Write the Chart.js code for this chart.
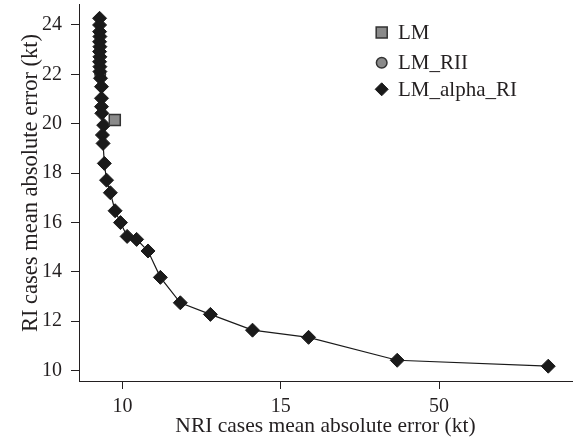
<!DOCTYPE html>
<html>
<head>
<meta charset="utf-8">
<script src="https://cdn.jsdelivr.net/npm/chart.js@4/dist/chart.umd.min.js"></script>
<style>
html,body{margin:0;padding:0;background:#fff;}
#wrap{width:576px;height:440px;}
</style>
</head>
<body>
<div id="wrap"><canvas id="c" width="576" height="440"></canvas></div>
<script>
// ---- data ----
const seriesNames = ["LM", "LM_RII", "LM_alpha_RI"];
const lmX = [9.76];
const lmY = [20.15];
const riiX = [9.30];
const riiY = [22.0];
const alphaX = [9.28, 9.28, 9.28, 9.29, 9.28, 9.29, 9.28, 9.29, 9.28, 9.29, 9.29, 9.31, 9.34, 9.34, 9.34, 9.35, 9.41, 9.37, 9.39, 9.43, 9.50, 9.62, 9.77, 9.94, 10.15, 10.45, 10.81, 11.20, 11.83, 12.78, 14.11, 15.88, 18.68, 23.45];
const alphaY = [24.27, 24.00, 23.73, 23.53, 23.32, 23.12, 22.92, 22.71, 22.51, 22.31, 22.11, 21.84, 21.50, 21.03, 20.69, 20.42, 19.94, 19.54, 19.20, 18.39, 17.71, 17.20, 16.47, 15.99, 15.43, 15.31, 14.84, 13.77, 12.74, 12.27, 11.63, 11.34, 10.41, 10.17];
const xTickValues = [10, 15, 20];
const xTickLabels = ["10", "15", "50"];
const yTickValues = [10, 12, 14, 16, 18, 20, 22, 24];
const xTitle = "NRI cases mean absolute error (kt)";
const yTitle = "RI cases mean absolute error (kt)";

const pts = (xs, ys) => xs.map((x, i) => ({x: x, y: ys[i]}));
const INK = "#231f20";
const FAMILY = "'Liberation Serif', 'Times New Roman', serif";
const TICKFONT = {family: FAMILY, size: 20};
const TITLEFONT = {family: FAMILY, size: 21.5};

const styles = [
  {pointStyle: 'rect', radius: 7.8, bg: '#8a8a8a', border: '#333333', bw: 1.5},
  {pointStyle: 'circle', radius: 5.3, bg: '#8a8a8a', border: '#333333', bw: 1.5},
  {pointStyle: 'rectRot', radius: 7, bg: '#1a1a1a', border: '#1a1a1a', bw: 1}
];

const decorPlugin = {
  id: 'decor',
  afterDraw(chart) {
    const ctx = chart.ctx;
    ctx.save();
    // legend
    const ys = [32.5, 62.7, 89.3];
    seriesNames.forEach((name, i) => {
      const s = styles[i];
      ctx.fillStyle = s.bg;
      ctx.strokeStyle = s.border;
      ctx.lineWidth = s.bw;
      Chart.helpers.drawPoint(ctx, {pointStyle: s.pointStyle, radius: s.pointStyle === 'rectRot' ? 6.5 : s.radius, rotation: 0, borderWidth: s.bw}, 381.7, ys[i]);
      ctx.fillStyle = INK;
      ctx.font = "21px " + FAMILY;
      ctx.textAlign = 'left';
      ctx.textBaseline = 'middle';
      ctx.fillText(name, 398, ys[i] + 1);
    });
    // y title
    ctx.translate(31, 183);
    ctx.rotate(-Math.PI / 2);
    ctx.fillStyle = INK;
    ctx.font = "22.5px " + FAMILY;
    ctx.textAlign = 'center';
    ctx.textBaseline = 'middle';
    ctx.fillText(yTitle, 0, 0);
    ctx.restore();
  }
};

new Chart(document.getElementById('c'), {
  type: 'scatter',
  data: {
    datasets: [
      {label: seriesNames[0], data: pts(lmX, lmY), pointStyle: styles[0].pointStyle, pointRadius: styles[0].radius, backgroundColor: styles[0].bg, borderColor: styles[0].border, pointBorderWidth: styles[0].bw, showLine: false, order: 1},
      {label: seriesNames[1], data: pts(riiX, riiY), pointStyle: styles[1].pointStyle, pointRadius: styles[1].radius, backgroundColor: styles[1].bg, borderColor: styles[1].border, pointBorderWidth: styles[1].bw, showLine: false, order: 3},
      {label: seriesNames[2], data: pts(alphaX, alphaY), pointStyle: styles[2].pointStyle, pointRadius: styles[2].radius, backgroundColor: styles[2].bg, borderColor: styles[2].border, pointBorderWidth: styles[2].bw, showLine: true, borderWidth: 1.2, tension: 0, order: 2}
    ]
  },
  options: {
    responsive: false,
    animation: false,
    events: [],
    layout: {autoPadding: false, padding: {top: 4, right: 4, left: 0, bottom: 0}},
    plugins: {legend: {display: false}, tooltip: {enabled: false}},
    scales: {
      x: {
        type: 'linear', min: 8.63, max: 24.2,
        afterBuildTicks: (s) => { s.ticks = xTickValues.map(v => ({value: v})); },
        afterFit: (s) => { s.height = 59; s.paddingLeft = 0; s.paddingRight = 0; },
        grid: {display: true, drawOnChartArea: false, drawTicks: true, tickLength: 8, color: INK, lineWidth: 1},
        border: {display: true, color: INK, width: 1},
        ticks: {color: INK, font: TICKFONT, padding: 6, maxRotation: 0, autoSkip: false,
          callback: (v) => { const i = xTickValues.indexOf(v); return i >= 0 ? xTickLabels[i] : ''; }},
        title: {display: true, text: xTitle, color: INK, font: TITLEFONT, padding: {top: 1, bottom: 1}}
      },
      y: {
        type: 'linear', min: 9.57, max: 24.85,
        afterBuildTicks: (s) => { s.ticks = yTickValues.map(v => ({value: v})); },
        afterFit: (s) => { s.width = 79; s.paddingTop = 0; s.paddingBottom = 0; },
        grid: {display: true, drawOnChartArea: false, drawTicks: true, tickLength: 8, color: INK, lineWidth: 1},
        border: {display: true, color: INK, width: 1},
        ticks: {color: INK, font: TICKFONT, padding: 9, autoSkip: false},
        title: {display: false, text: yTitle}
      }
    }
  },
  plugins: [decorPlugin]
});
</script>
</body>
</html>
